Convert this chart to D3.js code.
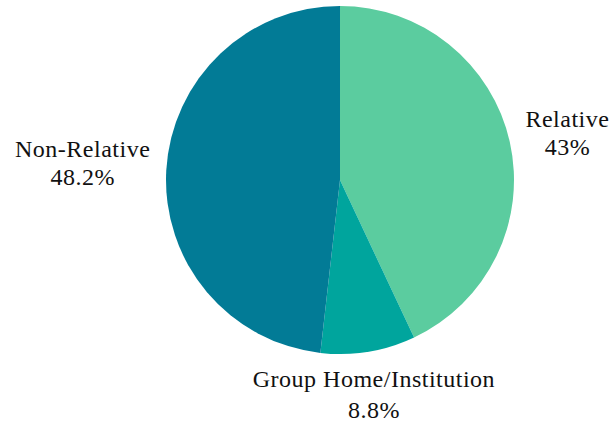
<!DOCTYPE html>
<html>
<head>
<meta charset="utf-8">
<script src="https://cdn.jsdelivr.net/npm/d3@7"></script>
<style>
  body { margin: 0; background: #fff; }
  text { font-family: "Liberation Serif", "DejaVu Serif", serif; fill: #111; }
</style>
</head>
<body>
<div id="chart"></div>
<script>
var categories = ['Relative', 'Group Home/Institution', 'Non-Relative'];
var values = [43, 8.8, 48.2];
var valueLabels = ['43%', '8.8%', '48.2%'];
var colors = ['#5bcc9f', '#00a59d', '#027b96'];

var width = 616, height = 425;
var cx = 340, cy = 180, radius = 174, labelRadius = 190;

var svg = d3.select('#chart')
    .append('svg')
        .attr('width', width)
        .attr('height', height);

var data = categories.map(function(c, i) {
    return { name: c, value: values[i], label: valueLabels[i], color: colors[i] };
});

var pie = d3.pie()
    .sort(null)
    .value(function(d) { return d.value; });

var arc = d3.arc().innerRadius(0).outerRadius(radius);

var g = svg.append('g')
    .attr('transform', 'translate(' + cx + ',' + cy + ')');

var arcs = pie(data);

g.selectAll('path')
    .data(arcs)
    .enter().append('path')
        .attr('d', arc)
        .style('fill', function(d) { return d.data.color; });

// labels sit just outside the pie at the slice's mid angle
arcs.forEach(function(a) {
    var mid = (a.startAngle + a.endAngle) / 2;
    var px = labelRadius * Math.sin(mid);
    var py = -labelRadius * Math.cos(mid);
    var side = Math.abs(Math.sin(mid)) > 0.5;

    var t = g.append('text')
        .attr('text-anchor', 'middle')
        .style('font-size', '24px')
        .style('letter-spacing', '0.5px');
    t.append('tspan').attr('x', 0).attr('dy', 0).text(a.data.name);
    t.append('tspan').attr('x', 0).attr('dy', side ? 28 : 31).text(a.data.label);

    var bb = t.node().getBBox();
    var x, y;
    if (side) {
        // side label: edge touches the point, roughly centred vertically
        x = px + (Math.sin(mid) > 0 ? bb.width / 2 : -bb.width / 2);
        y = py - (bb.y + bb.height / 2) - 6;
    } else {
        // bottom label: hangs below the point
        x = px + 3;
        y = py - bb.y - 1;
    }
    t.attr('transform', 'translate(' + x + ',' + y + ')');
});
</script>
</body>
</html>
